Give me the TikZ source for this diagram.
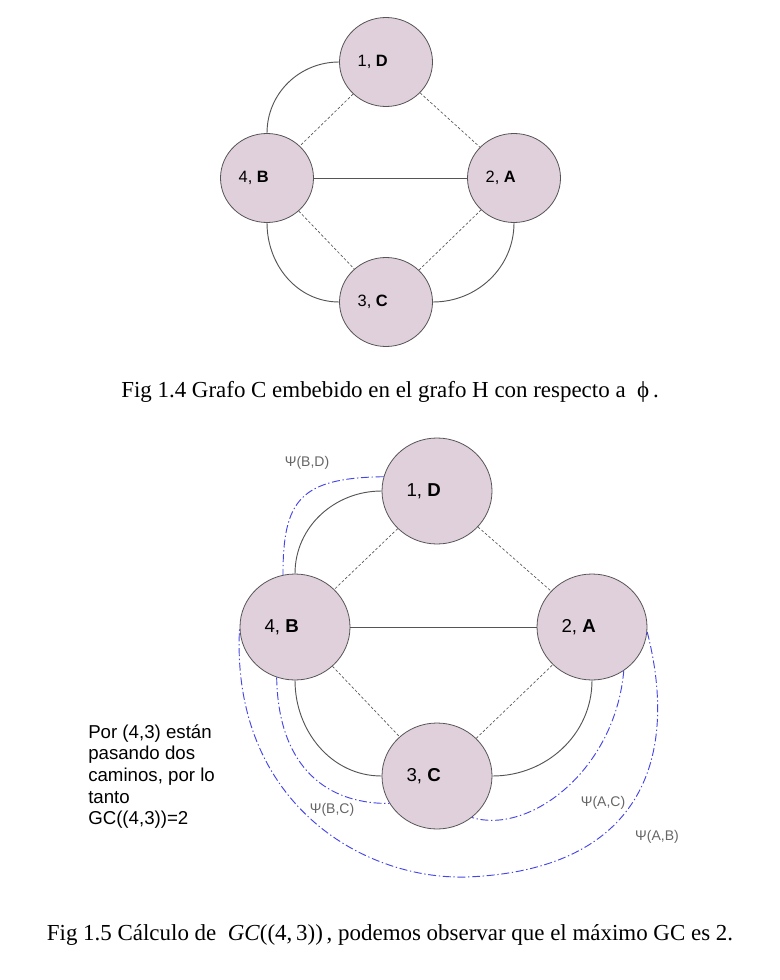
\documentclass[tikz,border=0pt]{standalone}
\usepackage{fontspec}
\setmainfont{Liberation Serif}
\setsansfont{Liberation Sans}
\usetikzlibrary{shapes.geometric}
\definecolor{relleno}{HTML}{E0D0DB}
\definecolor{borde}{HTML}{555555}
\definecolor{camino}{RGB}{70,70,230}
\definecolor{etiq}{HTML}{666666}
\newcommand{\corre}{\rule{20pt}{0pt}}
\tikzset{
  vertice/.style={ellipse, draw=borde, fill=relleno, inner sep=0pt, line width=0.6pt},
  chico/.style={vertice, minimum width=69.75pt, minimum height=66.75pt, font=\sffamily\fontsize{12.3}{14}\selectfont},
  grande/.style={vertice, minimum width=82.5pt, minimum height=79.5pt, font=\sffamily\fontsize{14}{17}\selectfont},
  arista/.style={draw=borde, line width=0.7pt},
  punteada/.style={draw=borde, line width=0.5pt, dash pattern=on 2pt off 1.5pt},
  psi/.style={draw=camino, line width=0.7pt, dash pattern=on 6pt off 2pt on 1pt off 2pt},
  nompsi/.style={text=etiq, font=\sffamily\fontsize{10.5}{13}\selectfont},
  leyenda/.style={anchor=base, font=\fontsize{17.2}{20}\selectfont},
}

\begin{document}
\begin{tikzpicture}[x=0.75pt,y=0.75pt]
\useasboundingbox (0,0) rectangle (780,-980);
% Grafo C embebido en H :
\node[chico] (d1) at (386,-62) {1, \textbf{D}\corre};
\node[chico] (b4) at (267,-178) {4, \textbf{B}\corre};
\node[chico] (a2) at (514,-178) {2, \textbf{A}\corre};
\node[chico] (c3) at (386,-302) {3, \textbf{C}\corre};
\draw[arista] (d1.west) to[out=180,in=90] (b4.north);
\draw[arista] (b4.south) to[out=-90,in=180] (c3.west);
\draw[arista] (c3.east) to[out=0,in=-90] (a2.south);
\draw[arista] (b4) -- (a2);
\draw[punteada] (d1) -- (b4);
\draw[punteada] (d1) -- (a2);
\draw[punteada] (b4) -- (c3);
\draw[punteada] (c3) -- (a2);
\node[leyenda] (fig14) at (390,-397) {Fig 1.4 Grafo C embebido en el grafo H con respecto a\ \ ϕ\,.};
% Calculo de GC((4,3)) :
\node[grande] (D1) at (437,-491) {1, \textbf{D}\corre};
\node[grande] (B4) at (295,-627) {4, \textbf{B}\corre};
\node[grande] (A2) at (592,-627) {2, \textbf{A}\corre};
\node[grande] (C3) at (437,-776) {3, \textbf{C}\corre};
\draw[arista] (D1.west) to[out=180,in=90] (B4.north);
\draw[arista] (B4.south) to[out=-90,in=180] (C3.west);
\draw[arista] (C3.east) to[out=0,in=-90] (A2.south);
\draw[arista] (B4) -- (A2);
\draw[punteada] (D1) -- (B4);
\draw[punteada] (D1) -- (A2);
\draw[punteada] (B4) -- (C3);
\draw[punteada] (C3) -- (A2);
% Caminos psi :
\draw[psi] (D1.165) .. controls (300,-478) and (283,-500) .. (B4.103);
\draw[psi] (B4.250) .. controls (278,-760) and (320,-804) .. (C3.210);
\draw[psi] (A2.-54) .. controls (615,-770) and (530,-835) .. (C3.-50);
\draw[psi] (A2.-5) .. controls (680,-760) and (640,-870) .. (467,-877)
  .. controls (360,-880) and (230,-800) .. (B4.west);
\node[nompsi] (pBD) at (307,-463) {Ψ(B,D)};
\node[nompsi] (pBC) at (332,-810) {Ψ(B,C)};
\node[nompsi] (pAC) at (603,-803) {Ψ(A,C)};
\node[nompsi] (pAB) at (657,-837) {Ψ(A,B)};
\node[anchor=north west, align=left, inner sep=0pt, font=\sffamily\fontsize{14}{16.3}\selectfont] (nota) at (88,-724)
  {Por (4,3) están\\pasando dos\\caminos, por lo\\tanto\\GC((4,3))=2};
\node[leyenda] (fig15) at (390,-940) {Fig 1.5 Cálculo de\ \ \textit{GC}((4,\,3))\,, podemos observar que el máximo GC es 2.};
\end{tikzpicture}
\end{document}
